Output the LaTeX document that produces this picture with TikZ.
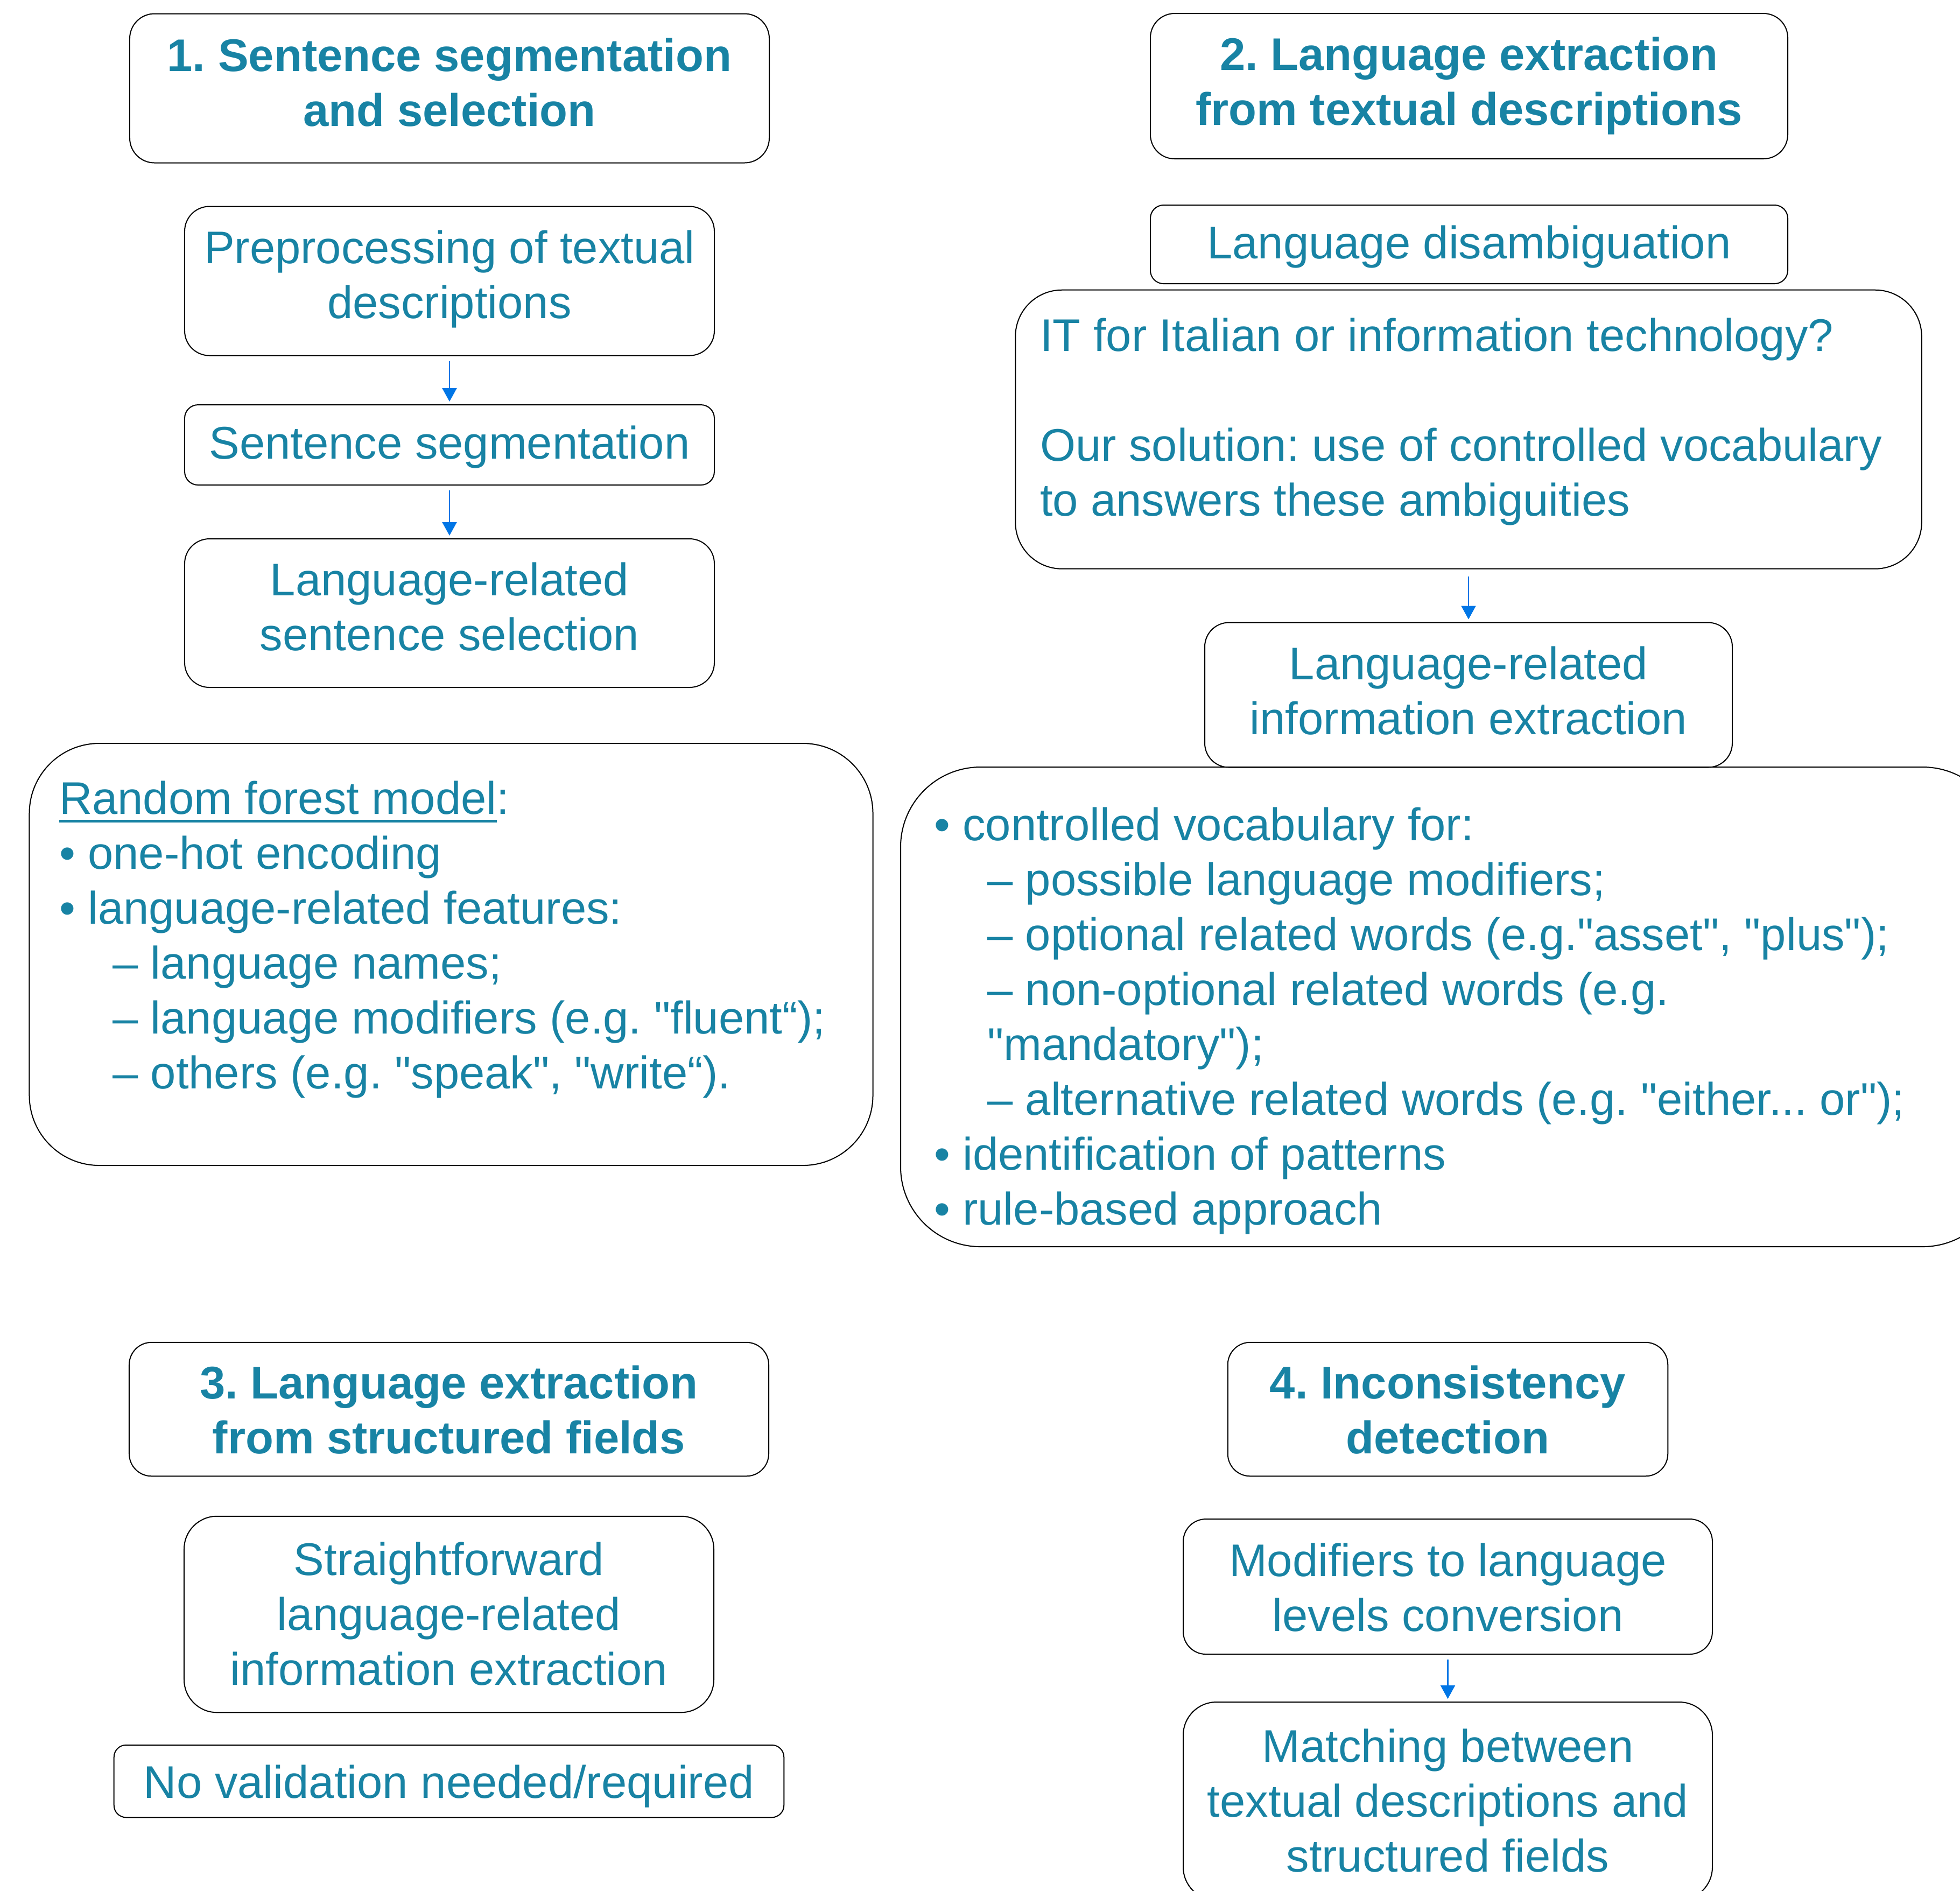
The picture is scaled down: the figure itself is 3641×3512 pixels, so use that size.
\documentclass[tikz,border=0pt]{standalone}
\usepackage{fontspec}
\setmainfont{Liberation Sans}[Ligatures=TeXOff]
\usetikzlibrary{arrows.meta}
\definecolor{tealtxt}{RGB}{24,131,164}
\definecolor{arrowblue}{RGB}{0,118,230}
\newcommand{\lvltwo}{\hspace*{19.8pt}}
\newsavebox{\myulbox}
\newcommand{\myul}[1]{\sbox{\myulbox}{#1}\rlap{\rule[-3.2pt]{\wd\myulbox}{1.1pt}}\usebox{\myulbox}}
\newcommand{\topstrut}[1]{\rule{0pt}{\dimexpr 14.28pt+#1*2\relax}}
\frenchspacing
\begin{document}
\frenchspacing
\begin{tikzpicture}[x=0.2pt,y=-0.2pt,
  every node/.style={inner sep=0pt, outer sep=0pt, text=tealtxt, font=\fontsize{17pt}{20.4pt}\selectfont\frenchspacing},
  rbox/.style args={#1/#2/#3}{draw=black, line width=0.4pt, minimum width=#1, minimum height=#2, rounded corners=#3, align=center, execute at end node=\strut},
  title/.style={font=\fontsize{17pt}{20.4pt}\selectfont\bfseries\frenchspacing},
  flow/.style={draw=arrowblue, line width=0.45pt, -{Triangle[length=5pt,width=5.4pt]}, shorten <=2pt, shorten >=1.2pt},
  list/.style={anchor=north west, align=left}
]
\useasboundingbox (0,0) rectangle (3641,3512);

% ---- column 1 ----
\node[rbox={237.6pt/55.4pt/9.2pt}, title] (t1) at (835,164) {\topstrut{-0.23pt}1. Sentence segmentation\\and selection};
\node[rbox={196.8pt/55.4pt/9.2pt}] (pre) at (835,522) {\topstrut{-0.43pt}Preprocessing of textual\\descriptions};
\node[rbox={196.8pt/29.8pt/5pt}] (seg) at (835,826.5) {\topstrut{1.2pt}Sentence segmentation};
\node[rbox={196.8pt/55.2pt/9.2pt}] (sel) at (835,1139) {\topstrut{-0.43pt}Language-related\\sentence selection};
\node[rbox={313.4pt/156.8pt/26pt}] (rf) at (838,1773) {};
\node[list] (rftext) at (110,1440.6) {\strut\myul{Random forest model}:\\
• one-hot encoding\\
• language-related features:\\
\lvltwo– language names;\\
\lvltwo– language modifiers (e.g. "fluent“);\\
\lvltwo– others (e.g. "speak", "write“).};

\draw[flow] (pre.south) -- (seg.north);
\draw[flow] (seg.south) -- (sel.north);

% ---- column 2 ----
\node[rbox={236.8pt/54pt/9pt}, title] (t2) at (2729,160) {\topstrut{0.27pt}2. Language extraction\\from textual descriptions};
\node[rbox={236.8pt/29.2pt/4.9pt}] (dis) at (2729,454) {\topstrut{1.3pt}Language disambiguation};
\node[rbox={336.7pt/103.6pt/17.3pt}] (it) at (2728,797.7) {};
\node[list] (ittext) at (1932,580.6) {\strut IT for Italian or information technology?\\[20.4pt]
Our solution: use of controlled vocabulary\\
to answers these ambiguities};
\node[rbox={196pt/53.8pt/9pt}] (info) at (2728,1291) {\topstrut{0.47pt}Language-related\\information extraction};
\node[rbox={409.4pt/178.2pt/29.7pt}] (cv) at (2696.5,1870.5) {};
\node[list] (cvtext) at (1735,1489.6) {\strut• controlled vocabulary for:\\
\lvltwo– possible language modifiers;\\
\lvltwo– optional related words (e.g."asset", "plus");\\
\lvltwo– non-optional related words (e.g.\\
\lvltwo"mandatory");\\
\lvltwo– alternative related words (e.g. "either... or");\\
• identification of patterns\\
• rule-based approach};

\draw[flow, shorten <=2.8pt] (it.south) -- (info.north);

% ---- column 3 ----
\node[rbox={237.6pt/49.7pt/8.3pt}, title] (t3) at (834,2618) {\topstrut{2.27pt}3. Language extraction\\from structured fields};
\node[rbox={196.8pt/72.9pt/12.2pt}] (sf) at (834,2999) {\topstrut{1.87pt}Straightforward\\language-related\\information extraction};
\node[rbox={248.9pt/26.9pt/4.5pt}] (nv) at (834,3309) {\topstrut{2.2pt}No validation needed/required};

% ---- column 4 ----
\node[rbox={163.5pt/49.7pt/8.3pt}, title] (t4) at (2689.5,2618) {\topstrut{2.27pt}4. Inconsistency\\detection};
\node[rbox={196.6pt/50.2pt/8.4pt}] (mod) at (2689.5,2947.5) {\topstrut{2.27pt}Modifiers to language\\levels conversion};
\node[rbox={196.6pt/73.6pt/12.3pt}] (mat) at (2689.5,3346) {\topstrut{1.87pt}Matching between\\textual descriptions and\\structured fields};

\draw[flow] (mod.south) -- (mat.north);
\end{tikzpicture}
\end{document}
